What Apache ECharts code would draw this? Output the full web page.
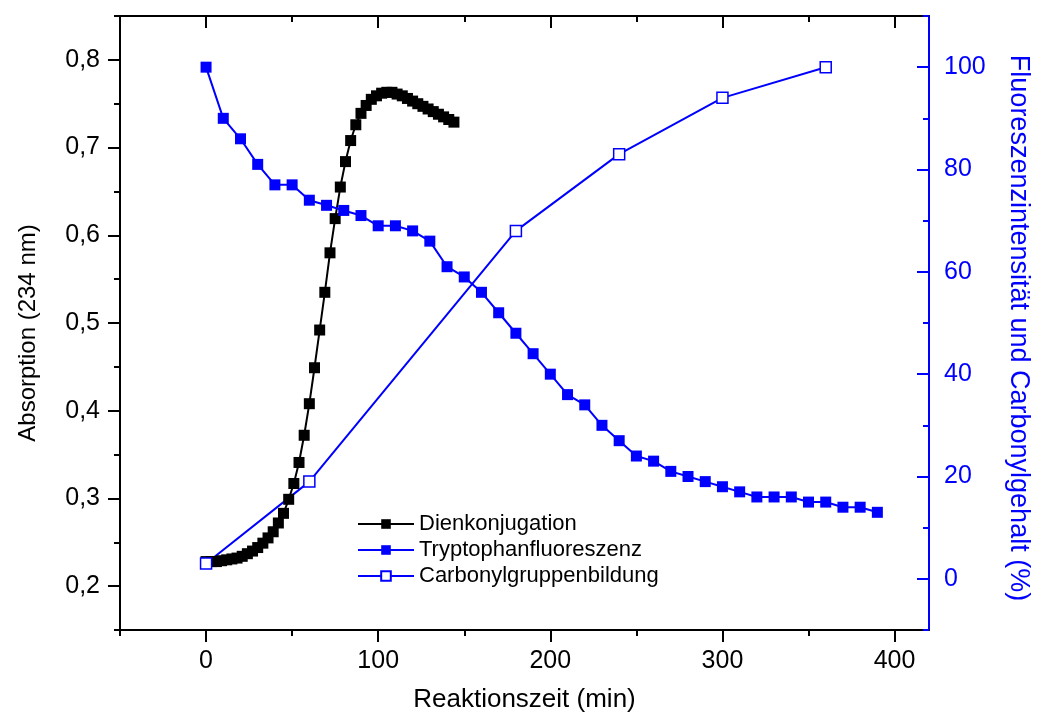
<!DOCTYPE html>
<html>
<head>
<meta charset="utf-8">
<script src="https://cdn.jsdelivr.net/npm/echarts@6/dist/echarts.min.js"></script>
<style>
html,body{margin:0;padding:0;background:#fff;}
#chart{width:1040px;height:720px;}
</style>
</head>
<body>
<div id="chart"></div>
<script>
// ---- data ----
const dienTime = [0,3,6,9,12,15,18,21,24,27,30,33,36,39,42,45,48,51,54,57,60,63,66,69,72,75,78,81,84,87,90,93,96,99,102,105,108,111,114,117,120,123,126,129,132,135,138,141,144];
const dienValues = [0.228,0.228,0.228,0.229,0.230,0.231,0.232,0.234,0.237,0.240,0.244,0.249,0.255,0.262,0.272,0.283,0.299,0.317,0.341,0.372,0.408,0.449,0.492,0.535,0.580,0.619,0.655,0.684,0.708,0.726,0.739,0.748,0.755,0.759,0.762,0.763,0.763,0.761,0.759,0.756,0.753,0.750,0.747,0.744,0.741,0.738,0.735,0.732,0.729];
const trpTime = [0,10,20,30,40,50,60,70,80,90,100,110,120,130,140,150,160,170,180,190,200,210,220,230,240,250,260,270,280,290,300,310,320,330,340,350,360,370,380,390];
const trpValues = [100,90,86,81,77,77,74,73,72,71,69,69,68,66,61,59,56,52,48,44,40,36,34,30,27,24,23,21,20,19,18,17,16,16,16,15,15,14,14,13];
const carbTime = [0,60,180,240,300,360];
const carbValues = [3,19,68,83,94,100];

const xMajor = [0,100,200,300,400];
const xMinor = [-50,50,150,250,350];
const leftMajor = [0.2,0.3,0.4,0.5,0.6,0.7,0.8];
const leftMinor = [0.15,0.25,0.35,0.45,0.55,0.65,0.75,0.85];
const rightMajor = [0,20,40,60,80,100];
const rightMinor = [-10,10,30,50,70,90,110];

const seriesNames = ['Dienkonjugation','Tryptophanfluoreszenz','Carbonylgruppenbildung'];
const xTitle = 'Reaktionszeit (min)';
const leftTitle = 'Absorption (234 nm)';
const rightTitle = 'Fluoreszenzintensität und Carbonylgehalt (%)';

// ---- chart ----
const FONT = "'Liberation Sans', Arial, sans-serif";
const BLUE = '#0000ff';
const zip = (a, b) => a.map((v, i) => [v, b[i]]);

const chart = echarts.init(document.getElementById('chart'), null, {renderer: 'canvas'});
const xRange = {min: -50, max: 420};
const lRange = {min: 0.15, max: 0.85};
const rRange = {min: -10, max: 110};

chart.setOption({
  animation: false,
  backgroundColor: '#fff',
  textStyle: {fontFamily: FONT},
  grid: {left: 120, right: 106, top: 16, bottom: 90, containLabel: false},
  legend: {
    orient: 'vertical', left: 352, top: 508,
    itemWidth: 56, itemHeight: 12, itemGap: 4,
    textStyle: {fontFamily: FONT, fontSize: 22, color: '#000'},
    data: seriesNames
  },
  xAxis: [
    {type: 'value', position: 'bottom', ...xRange,
     name: xTitle, nameLocation: 'middle', nameGap: 57,
     nameTextStyle: {fontFamily: FONT, fontSize: 26, color: '#000'},
     axisLine: {show: true, onZero: false, lineStyle: {color: '#000', width: 2}},
     axisTick: {show: true, customValues: xMajor, length: 12, lineStyle: {color: '#000', width: 2}},
     axisLabel: {customValues: xMajor, fontFamily: FONT, fontSize: 25, color: '#000', margin: 19},
     splitLine: {show: false}},
    {type: 'value', position: 'bottom', ...xRange,
     axisLine: {show: false, onZero: false},
     axisTick: {show: true, customValues: xMinor, length: 6, lineStyle: {color: '#000', width: 2}},
     axisLabel: {show: false}, splitLine: {show: false}},
    {type: 'value', position: 'top', ...xRange,
     axisLine: {show: true, onZero: false, lineStyle: {color: '#000', width: 2}},
     axisTick: {show: true, inside: true, customValues: xMajor, length: 12, lineStyle: {color: '#000', width: 2}},
     axisLabel: {show: false}, splitLine: {show: false}},
    {type: 'value', position: 'top', ...xRange,
     axisLine: {show: false, onZero: false},
     axisTick: {show: true, inside: true, customValues: xMinor, length: 6, lineStyle: {color: '#000', width: 2}},
     axisLabel: {show: false}, splitLine: {show: false}}
  ],
  yAxis: [
    {type: 'value', position: 'left', ...lRange,
     name: leftTitle, nameLocation: 'middle', nameGap: 80,
     nameTextStyle: {fontFamily: FONT, fontSize: 24, color: '#000', padding: [0, 20, 0, 0]},
     axisLine: {show: true, onZero: false, lineStyle: {color: '#000', width: 2}},
     axisTick: {show: true, customValues: leftMajor, length: 12, lineStyle: {color: '#000', width: 2}},
     axisLabel: {customValues: leftMajor, fontFamily: FONT, fontSize: 25, color: '#000', margin: 20,
                 formatter: v => v.toFixed(1).replace('.', ',')},
     splitLine: {show: false}},
    {type: 'value', position: 'left', ...lRange,
     axisLine: {show: false, onZero: false},
     axisTick: {show: true, customValues: leftMinor, length: 6, lineStyle: {color: '#000', width: 2}},
     axisLabel: {show: false}, splitLine: {show: false}},
    {type: 'value', position: 'right', ...rRange,
     name: rightTitle, nameLocation: 'middle', nameGap: 76, nameRotate: -90,
     nameTextStyle: {fontFamily: FONT, fontSize: 27, color: BLUE, padding: [0, 0, 0, 10]},
     axisLine: {show: true, onZero: false, lineStyle: {color: BLUE, width: 2}},
     axisTick: {show: true, inside: true, customValues: rightMajor, length: 12, lineStyle: {color: BLUE, width: 2}},
     axisLabel: {customValues: rightMajor, fontFamily: FONT, fontSize: 25, color: BLUE, margin: 15},
     splitLine: {show: false}},
    {type: 'value', position: 'right', ...rRange,
     axisLine: {show: false, onZero: false},
     axisTick: {show: true, inside: true, customValues: rightMinor, length: 6, lineStyle: {color: BLUE, width: 2}},
     axisLabel: {show: false}, splitLine: {show: false}}
  ],
  series: [
    {name: seriesNames[0], type: 'line', xAxisIndex: 0, yAxisIndex: 0,
     data: zip(dienTime, dienValues),
     symbol: 'rect', symbolSize: 11, showAllSymbol: true,
     lineStyle: {color: '#000', width: 2}, itemStyle: {color: '#000'}},
    {name: seriesNames[1], type: 'line', xAxisIndex: 0, yAxisIndex: 2,
     data: zip(trpTime, trpValues),
     symbol: 'rect', symbolSize: 11, showAllSymbol: true,
     lineStyle: {color: BLUE, width: 2}, itemStyle: {color: BLUE}},
    {name: seriesNames[2], type: 'line', xAxisIndex: 0, yAxisIndex: 2,
     data: zip(carbTime, carbValues),
     symbol: 'rect', symbolSize: 11, showAllSymbol: true,
     lineStyle: {color: BLUE, width: 2}, itemStyle: {color: '#fff', borderColor: BLUE, borderWidth: 1.5}}
  ]
});
</script>
</body>
</html>
